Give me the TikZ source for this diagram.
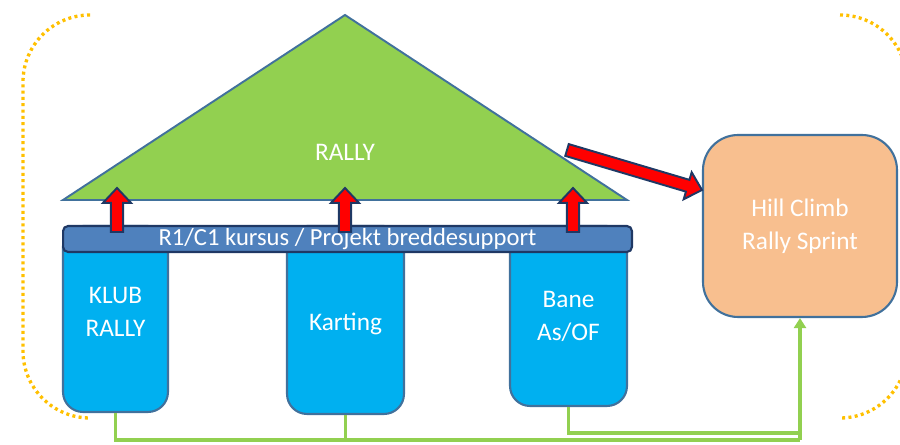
\documentclass[tikz,border=0pt]{standalone}
\usepackage{fontspec}
\setmainfont{Carlito}
\usetikzlibrary{calc,arrows.meta}

\definecolor{rallygreen}{HTML}{92D050}
\definecolor{edgeblue}{HTML}{41719C}
\definecolor{barblue}{HTML}{4F81BD}
\definecolor{darknavy}{HTML}{1F3864}
\definecolor{pillarblue}{HTML}{00B0F0}
\definecolor{peach}{HTML}{F8BF8F}
\definecolor{gold}{HTML}{FFC000}

\tikzset{
  whitetext/.style={text=white, font=\fontsize{14.4}{18.7}\selectfont, align=center, inner sep=0pt},
  bracket/.style={draw=gold, line width=1.9pt, dash pattern=on 1.7pt off 1.9pt, rounded corners=1.34cm},
  roof/.style={draw=edgeblue, line width=1.1pt, fill=rallygreen, line join=miter},
  pillar/.style={whitetext, draw=edgeblue, line width=1.2pt, fill=pillarblue, rounded corners=0.4cm},
  bar/.style={whitetext, font=\fontsize{14}{17}\selectfont, draw=darknavy, line width=1.2pt, fill=barblue,
    rounded corners=0.1cm, minimum width=11.38cm, minimum height=0.52cm},
  hillbox/.style={whitetext, draw=edgeblue, line width=1.2pt, fill=peach, rounded corners=0.7cm,
    minimum width=3.88cm, minimum height=3.64cm},
  redarrow/.style={draw=darknavy, line width=1.1pt, fill=red, line join=miter},
  greenline/.style={draw=rallygreen, line width=2pt}
}

% block arrow from #1 to #2
\newcommand{\blockarrow}[2]{%
  \coordinate (ahead) at ($(#2)!8.5pt!(#1)$);
  \draw[redarrow] ($(#1)!3.5pt!90:(#2)$) -- ($(ahead)!3.5pt!90:(#2)$) -- ($(ahead)!8pt!90:(#2)$) -- (#2)
    -- ($(ahead)!8pt!-90:(#2)$) -- ($(ahead)!3.5pt!-90:(#2)$) -- ($(#1)!3.5pt!-90:(#2)$) -- cycle;}

\begin{document}
\begin{tikzpicture}[x=0.02cm, y=-0.02cm]
    \useasboundingbox (0,0) rectangle (900,445);
    % Dotted brackets
    \draw[bracket] (90,15) -- (23,15) -- (23,418) -- (90,418);
    \draw[bracket] (840,15) -- (907,15) -- (907,418) -- (840,418);
    % Roof
    \coordinate (apex) at (345,15);
    \coordinate (roofL) at (63,200);
    \coordinate (roofR) at (627,200);
    \draw[roof] (apex) -- (roofR) -- (roofL) -- cycle;
    \node[whitetext] (rally) at (345,152) {RALLY};
    % Pillars
    \node[pillar, minimum width=2.1cm, minimum height=3.72cm, text depth=8pt] (klub) at (115.5,319) {KLUB\\RALLY};
    \node[pillar, minimum width=2.34cm, minimum height=3.76cm, text height=14.5pt] (karting) at (345.5,320) {Karting};
    \node[pillar, minimum width=2.34cm, minimum height=3.6cm] (bane) at (568.5,316) {Bane\\As/OF};
    % Bar across the pillars
    \node[bar] (kursus) at (347.5,239) {R1/C1 kursus / Projekt breddesupport};
    % Side box
    \node[hillbox] (hill) at (800,226) {Hill Climb\\Rally Sprint};
    % Red arrows
    \coordinate (upA1) at (117,232); \coordinate (upB1) at (117,188);
    \coordinate (upA2) at (345,232); \coordinate (upB2) at (345,188);
    \coordinate (upA3) at (573,232); \coordinate (upB3) at (573,188);
    \blockarrow{upA1}{upB1}
    \blockarrow{upA2}{upB2}
    \blockarrow{upA3}{upB3}
    \coordinate (sideA) at (567,150);
    \coordinate (sideB) at (702,190);
    \blockarrow{sideA}{sideB}
    % Green connectors
    \coordinate (busLow) at (800,440);
    \coordinate (busHigh) at (800,433);
    \draw[greenline] (klub.south) |- (busLow);
    \draw[greenline] (karting.south) -- (karting.south |- busLow);
    \draw[greenline] (bane.south) |- (busHigh);
    \draw[greenline, -{Triangle[length=5.7pt, width=6.8pt]}] (busLow) -- (hill.south);
\end{tikzpicture}
\end{document}
